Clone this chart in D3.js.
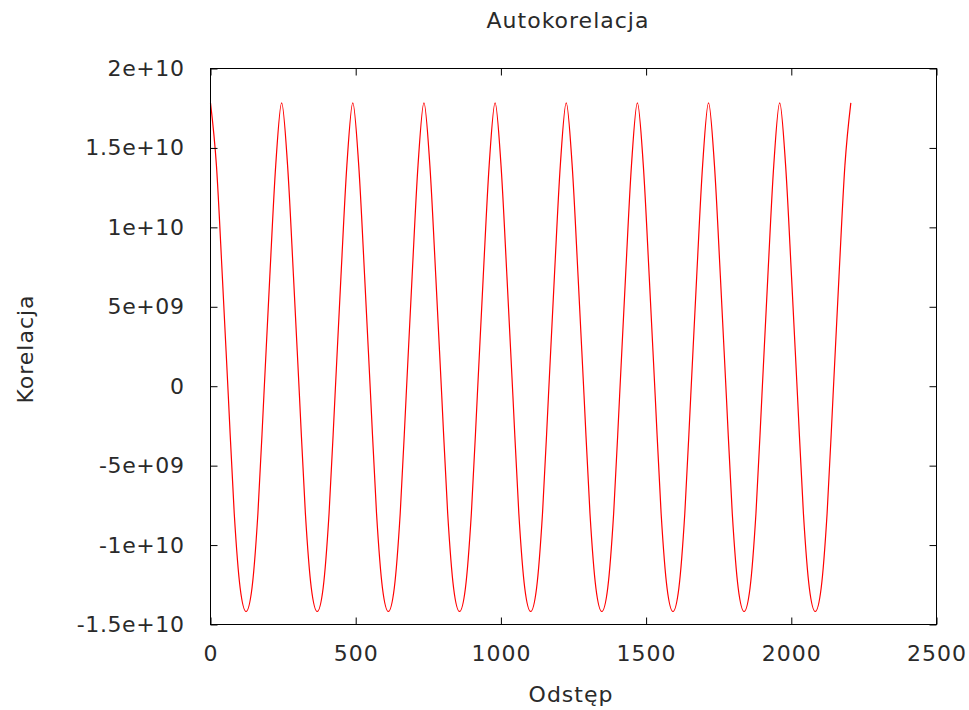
<!DOCTYPE html>
<html>
<head>
<meta charset="utf-8">
<script src="https://cdn.jsdelivr.net/npm/d3@7"></script>
<style>
  html, body { margin: 0; padding: 0; background: #fff; }
  svg { display: block; }
  text { font-family: "DejaVu Sans", sans-serif; font-size: 22px; fill: #2a2a2a; letter-spacing: 1px; }
</style>
</head>
<body>
<svg id="chart" width="969" height="710"></svg>
<script>
// ---- data ----
const title = "Autokorelacja";
const xLabel = "Odstęp";
const yLabel = "Korelacja";

const xTicks = [0, 500, 1000, 1500, 2000, 2500];
const xTickLabels = ["0", "500", "1000", "1500", "2000", "2500"];
const yTicks = [-1.5e10, -1e10, -5e9, 0, 5e9, 1e10, 1.5e10, 2e10];
const yTickLabels = ["-1.5e+10", "-1e+10", "-5e+09", "0", "5e+09", "1e+10", "1.5e+10", "2e+10"];

const lags = [
  0, 20.4, 40.8, 61.3, 81.7, 102.1, 122.5, 142.9, 163.3, 183.8, 204.2, 224.6,
  245, 265.4, 285.8, 306.3, 326.7, 347.1, 367.5, 387.9, 408.3, 428.8, 449.2, 469.6,
  490, 510.4, 530.8, 551.3, 571.7, 592.1, 612.5, 632.9, 653.3, 673.8, 694.2, 714.6,
  735, 755.4, 775.8, 796.3, 816.7, 837.1, 857.5, 877.9, 898.3, 918.8, 939.2, 959.6,
  980, 1000.4, 1020.8, 1041.3, 1061.7, 1082.1, 1102.5, 1122.9, 1143.3, 1163.8, 1184.2, 1204.6,
  1225, 1245.4, 1265.8, 1286.3, 1306.7, 1327.1, 1347.5, 1367.9, 1388.3, 1408.8, 1429.2, 1449.6,
  1470, 1490.4, 1510.8, 1531.3, 1551.7, 1572.1, 1592.5, 1612.9, 1633.3, 1653.8, 1674.2, 1694.6,
  1715, 1735.4, 1755.8, 1776.3, 1796.7, 1817.1, 1837.5, 1857.9, 1878.3, 1898.8, 1919.2, 1939.6,
  1960, 1980.4, 2000.8, 2021.3, 2041.7, 2062.1, 2082.5, 2102.9, 2123.3, 2143.8, 2164.2, 2184.6,
  2205
];

const korelacja = [
  1.784e10, 1.39e10, 0.69e10, -0.06e10, -0.80e10, -1.27e10, -1.418e10, -1.27e10, -0.80e10, -0.06e10, 0.69e10, 1.39e10,
  1.784e10, 1.39e10, 0.69e10, -0.06e10, -0.80e10, -1.27e10, -1.418e10, -1.27e10, -0.80e10, -0.06e10, 0.69e10, 1.39e10,
  1.784e10, 1.39e10, 0.69e10, -0.06e10, -0.80e10, -1.27e10, -1.418e10, -1.27e10, -0.80e10, -0.06e10, 0.69e10, 1.39e10,
  1.784e10, 1.39e10, 0.69e10, -0.06e10, -0.80e10, -1.27e10, -1.418e10, -1.27e10, -0.80e10, -0.06e10, 0.69e10, 1.39e10,
  1.784e10, 1.39e10, 0.69e10, -0.06e10, -0.80e10, -1.27e10, -1.418e10, -1.27e10, -0.80e10, -0.06e10, 0.69e10, 1.39e10,
  1.784e10, 1.39e10, 0.69e10, -0.06e10, -0.80e10, -1.27e10, -1.418e10, -1.27e10, -0.80e10, -0.06e10, 0.69e10, 1.39e10,
  1.784e10, 1.39e10, 0.69e10, -0.06e10, -0.80e10, -1.27e10, -1.418e10, -1.27e10, -0.80e10, -0.06e10, 0.69e10, 1.39e10,
  1.784e10, 1.39e10, 0.69e10, -0.06e10, -0.80e10, -1.27e10, -1.418e10, -1.27e10, -0.80e10, -0.06e10, 0.69e10, 1.39e10,
  1.784e10, 1.39e10, 0.69e10, -0.06e10, -0.80e10, -1.27e10, -1.418e10, -1.27e10, -0.80e10, -0.06e10, 0.69e10, 1.39e10,
  1.784e10
];

// ---- layout ----
const plot = { left: 210.5, right: 936.5, top: 68.5, bottom: 624.5 };
const tickLen = 7;

const svg = d3.select("#chart");

const x = d3.scaleLinear().domain([0, 2500]).range([plot.left, plot.right]);
const y = d3.scaleLinear().domain([-1.5e10, 2e10]).range([plot.bottom, plot.top]);

// data line
const data = lags.map((l, i) => ({ lag: l, v: korelacja[i] }));
const line = d3.line()
  .x(d => x(d.lag))
  .y(d => y(d.v))
  .curve(d3.curveMonotoneX);

svg.append("path")
  .datum(data)
  .attr("d", line)
  .attr("fill", "none")
  .attr("stroke", "#ff0000")
  .attr("stroke-width", 1.2)
  .attr("stroke-linejoin", "round");

// axes (ticks pointing inward, mirrored)
const fmtX = (d) => xTickLabels[xTicks.indexOf(d)];
const fmtY = (d) => yTickLabels[yTicks.indexOf(d)];

const gBottom = svg.append("g")
  .attr("transform", `translate(0,${plot.bottom})`)
  .call(d3.axisBottom(x).tickValues(xTicks).tickFormat(fmtX).tickSize(-tickLen).tickPadding(21));
const gTop = svg.append("g")
  .attr("transform", `translate(0,${plot.top})`)
  .call(d3.axisTop(x).tickValues(xTicks).tickFormat("").tickSize(-tickLen));
const gLeft = svg.append("g")
  .attr("transform", `translate(${plot.left},0)`)
  .call(d3.axisLeft(y).tickValues(yTicks).tickFormat(fmtY).tickSize(-tickLen).tickPadding(26));
const gRight = svg.append("g")
  .attr("transform", `translate(${plot.right},0)`)
  .call(d3.axisRight(y).tickValues(yTicks).tickFormat("").tickSize(-tickLen));

[gBottom, gTop, gLeft, gRight].forEach(g => {
  g.select(".domain").remove();
  g.selectAll(".tick line").attr("stroke", "#000").attr("stroke-width", 1);
  g.selectAll(".tick text")
    .attr("fill", "#2a2a2a")
    .style("font-family", '"DejaVu Sans", sans-serif')
    .style("font-size", "22px");
  g.attr("font-family", null).attr("font-size", null);
});
gLeft.selectAll(".tick text").style("letter-spacing", "0.6px");

// frame
svg.append("rect")
  .attr("x", plot.left).attr("y", plot.top)
  .attr("width", plot.right - plot.left).attr("height", plot.bottom - plot.top)
  .attr("fill", "none").attr("stroke", "#000").attr("stroke-width", 1);

// texts
svg.append("text")
  .attr("x", 568).attr("y", 28)
  .attr("text-anchor", "middle")
  .text(title);

svg.append("text")
  .attr("x", 571).attr("y", 702)
  .attr("text-anchor", "middle")
  .text(xLabel);

svg.append("text")
  .attr("transform", "translate(32.5,349) rotate(-90)")
  .attr("text-anchor", "middle")
  .text(yLabel);
</script>
</body>
</html>
